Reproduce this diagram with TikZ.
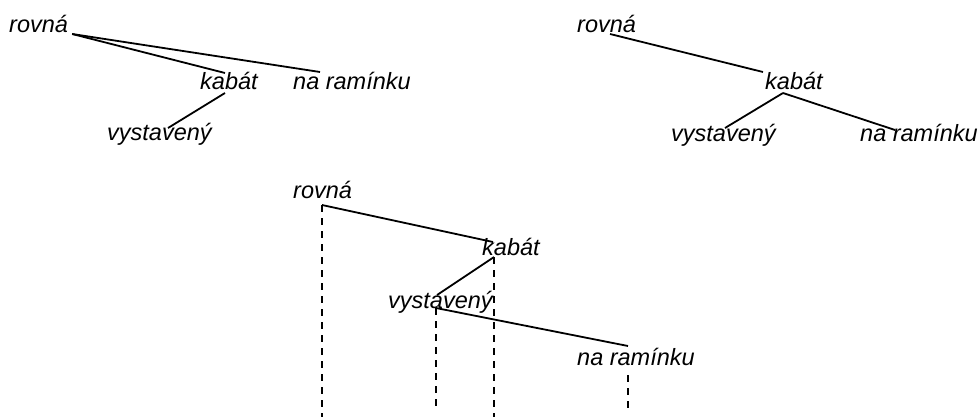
\documentclass[tikz,border=0pt]{standalone}
\usepackage{fontspec}
\setmainfont{Liberation Sans}
\begin{document}
\begin{tikzpicture}[x=1pt,y=-1pt,
  word/.style={inner sep=0pt,anchor=base west,font=\fontsize{23.5}{28}\selectfont\itshape},
  edge/.style={line width=1.8pt},
  guide/.style={line width=1.7pt,dash pattern=on 6.5pt off 6.5pt}]
\useasboundingbox (0,0) rectangle (979,417);

% first tree: rovna governs both kabat and na raminku
\node[word] (r1) at (9,33) {rovná};
\node[word] (k1) at (200,90) {kabát};
\node[word] (n1) at (293,90) {na ramínku};
\node[word] (v1) at (107,140) {vystavený};
\draw[edge] ([shift={(4,1)}]r1.base east) -- ([shift={(25,-17)}]k1.base west);
\draw[edge] ([shift={(4,1)}]r1.base east) -- ([shift={(27,-18)}]n1.base west);
\draw[edge] ([shift={(25,3)}]k1.base west) -- ([shift={(61,-12)}]v1.base west);

% second tree: kabat governs both dependents
\node[word] (r2) at (577,33) {rovná};
\node[word] (k2) at (765,90) {kabát};
\node[word] (v2) at (671,142) {vystavený};
\node[word] (n2) at (860,142) {na ramínku};
\draw[edge] ([shift={(33,1)}]r2.base west) -- ([shift={(-2,-18)}]k2.base west);
\draw[edge] ([shift={(18,3)}]k2.base west) -- ([shift={(54,-14)}]v2.base west);
\draw[edge] ([shift={(18,3)}]k2.base west) -- ([shift={(35,-12)}]n2.base west);

% third tree: chain with projection lines
\node[word] (r3) at (293,198) {rovná};
\node[word] (k3) at (482,255) {kabát};
\node[word] (v3) at (388,308) {vystavený};
\node[word] (n3) at (577,365) {na ramínku};
\coordinate (floor) at (0,417);
\coordinate (floorb) at (0,411);

\coordinate (pr) at ([shift={(29,7)}]r3.base west);
\coordinate (pk) at ([shift={(12,2)}]k3.base west);
\coordinate (pv) at ([shift={(48,0)}]v3.base west);
\coordinate (pn) at ([shift={(51,10)}]n3.base west);

\draw[edge] (pr) -- ([shift={(11,-13)}]k3.base west);
\draw[edge] (pk) -- ([shift={(49,-13)}]v3.base west);
\draw[edge] (pv) -- ([shift={(51,-19)}]n3.base west);

\draw[guide] (pr) -- (pr |- floor);
\draw[guide] (pk) -- (pk |- floor);
\draw[guide] (pv) -- (pv |- floorb);
\draw[guide] (pn) -- (pn |- floorb);
\end{tikzpicture}
\end{document}
